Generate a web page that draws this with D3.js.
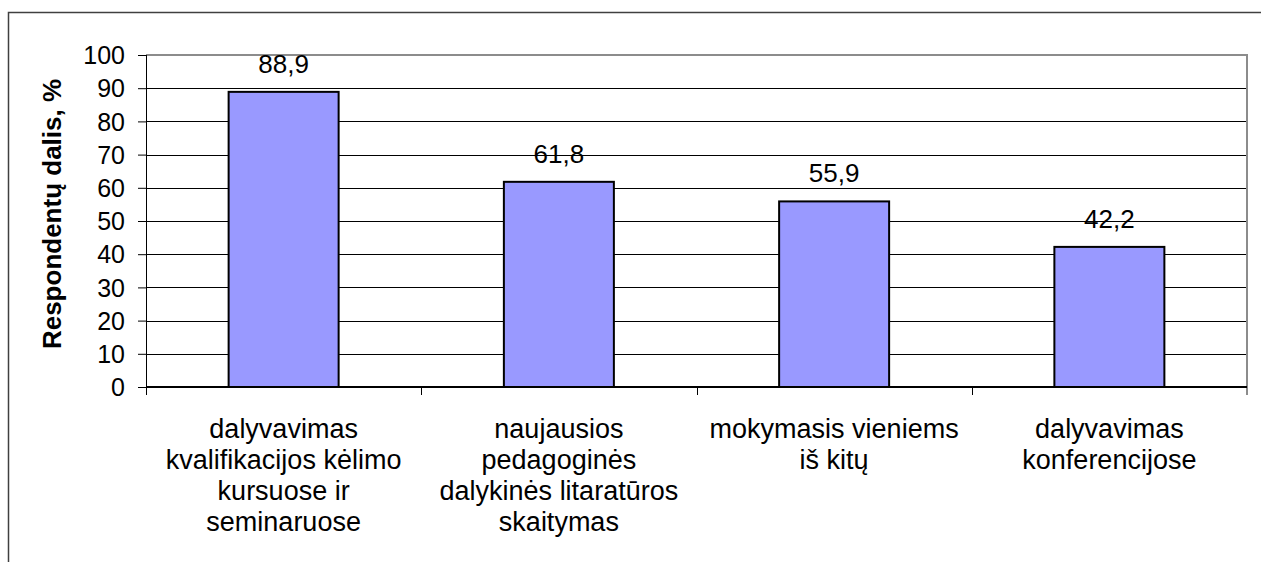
<!DOCTYPE html>
<html>
<head>
<meta charset="utf-8">
<script src="https://cdn.jsdelivr.net/npm/d3@7"></script>
<style>
  body { margin: 0; background: #fff; }
  text { font-family: "Liberation Sans", Arial, sans-serif; fill: #000; }
</style>
</head>
<body>
<svg id="chart" width="1261" height="562"></svg>
<script>
// Chart data
const categories = [
  ["dalyvavimas", "kvalifikacijos kėlimo", "kursuose ir", "seminaruose"],
  ["naujausios", "pedagoginės", "dalykinės litaratūros", "skaitymas"],
  ["mokymasis vieniems", "iš kitų"],
  ["dalyvavimas", "konferencijose"]
];
const values = [88.9, 61.8, 55.9, 42.2];
const yTicks = [0, 10, 20, 30, 40, 50, 60, 70, 80, 90, 100];
const yTitle = "Respondentų dalis, %";

// Set up the figure dimensions
let margin = {top: 55, right: 14, bottom: 175, left: 146},
    width = 1261 - margin.left - margin.right,
    height = 562 - margin.top - margin.bottom;

let svg = d3.select("#chart");

// outer frame (only left and top edges visible)
svg.append("path")
  .attr("d", "M8.5,562 V12.5 H1261")
  .attr("fill", "none")
  .attr("stroke", "#404040")
  .attr("stroke-width", 1.5);

let g = svg.append("g")
  .attr("transform", "translate(" + margin.left + "," + margin.top + ")");

let idx = values.map((d, i) => i);

let x = d3.scaleBand()
  .domain(idx)
  .range([0, width])
  .paddingInner(0)
  .paddingOuter(0);

let y = d3.scaleLinear()
  .domain([0, 100])
  .range([height, 0]);

// gridlines
g.selectAll(".grid")
  .data(yTicks.filter(t => t > 0 && t < 100))
  .enter()
  .append("line")
  .attr("x1", 0)
  .attr("x2", width)
  .attr("y1", d => Math.round(y(d)) + 0.5)
  .attr("y2", d => Math.round(y(d)) + 0.5)
  .attr("stroke", "#000")
  .attr("stroke-width", 1);

// plot area border top + right (gray)
g.append("path")
  .attr("d", "M0," + y(100) + " H" + width + " V" + (height + 8))
  .attr("fill", "none")
  .attr("stroke", "#8c8c8c")
  .attr("stroke-width", 2);

// bars
let barW = 110;
g.selectAll(".bar")
  .data(values)
  .enter()
  .append("rect")
  .attr("x", (d, i) => x(i) + x.bandwidth() / 2 - barW / 2)
  .attr("y", d => y(d))
  .attr("width", barW)
  .attr("height", d => height - y(d))
  .attr("fill", "#9999ff")
  .attr("stroke", "#000")
  .attr("stroke-width", 2);

// value labels
g.selectAll(".val")
  .data(values)
  .enter()
  .append("text")
  .attr("x", (d, i) => x(i) + x.bandwidth() / 2)
  .attr("y", d => y(d) - 19)
  .attr("text-anchor", "middle")
  .style("font-size", "26px")
  .text(d => d.toFixed(1).replace(".", ","));

// y axis
let yAxis = g.append("g")
  .call(d3.axisLeft(y).tickValues(yTicks).tickSize(8).tickPadding(13));
yAxis.select(".domain").attr("stroke", "#000").attr("d", "M0.5,0V" + height);
yAxis.selectAll(".tick line").attr("stroke", "#000");
yAxis.selectAll(".tick text")
  .style("font-size", "25px")
  .style("font-family", "Liberation Sans, Arial, sans-serif")
  .attr("dy", "0.35em");

// x axis baseline + ticks at category boundaries
let bounds = idx.map(i => x(i)).concat([width]);
g.append("line")
  .attr("x1", 0).attr("x2", width)
  .attr("y1", height).attr("y2", height)
  .attr("stroke", "#000").attr("stroke-width", 2);
g.selectAll(".xtick")
  .data(bounds.slice(0, 4))
  .enter()
  .append("line")
  .attr("x1", d => Math.round(d) + 0.5).attr("x2", d => Math.round(d) + 0.5)
  .attr("y1", height).attr("y2", height + 8)
  .attr("stroke", "#000");

// category labels
let cat = g.selectAll(".cat")
  .data(categories)
  .enter()
  .append("text")
  .attr("text-anchor", "middle")
  .attr("transform", (d, i) => "translate(" + (x(i) + x.bandwidth() / 2) + "," + (height + 51) + ")")
  .style("font-size", "27px");
cat.selectAll("tspan")
  .data(d => d)
  .enter()
  .append("tspan")
  .attr("x", 0)
  .attr("y", (d, i) => i * 31)
  .text(d => d);

// y title
svg.append("text")
  .attr("transform", "translate(61," + (margin.top + height / 2 - 7) + ") rotate(-90)")
  .attr("text-anchor", "middle")
  .style("font-size", "26px")
  .style("font-weight", "bold")
  .text(yTitle);
</script>
</body>
</html>
